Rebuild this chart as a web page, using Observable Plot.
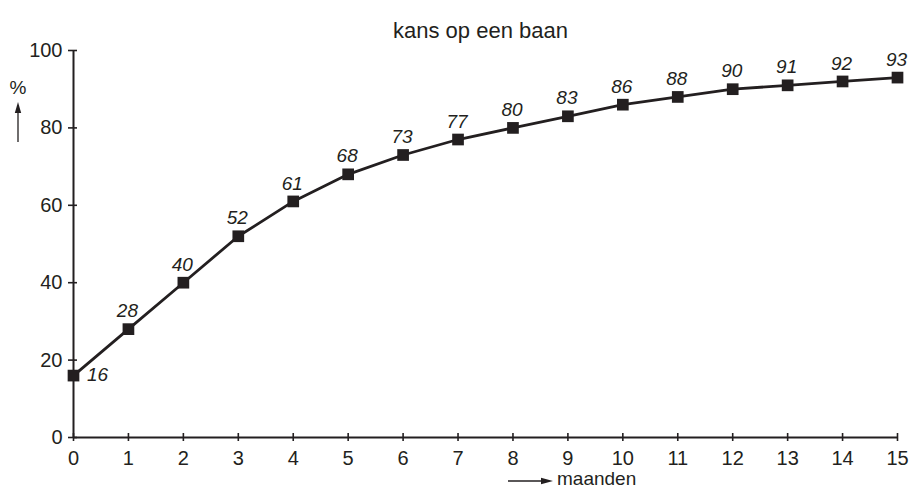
<!DOCTYPE html>
<html>
<head>
<meta charset="utf-8">
<script src="https://cdn.jsdelivr.net/npm/d3@7"></script>
<script src="https://cdn.jsdelivr.net/npm/@observablehq/plot@0.6"></script>
<style>
  html, body { margin: 0; padding: 0; background: #fff; }
  #chart svg { display: block; }
</style>
</head>
<body>
<div id="chart"></div>
<script>
const title = "kans op een baan";
const xLabel = "maanden";
const yLabel = "%";
const months = [0, 1, 2, 3, 4, 5, 6, 7, 8, 9, 10, 11, 12, 13, 14, 15];
const chance = [16, 28, 40, 52, 61, 68, 73, 77, 80, 83, 86, 88, 90, 91, 92, 93];
const xTicks = [0, 1, 2, 3, 4, 5, 6, 7, 8, 9, 10, 11, 12, 13, 14, 15];
const yTicks = [0, 20, 40, 60, 80, 100];

const data = months.map((m, i) => ({month: m, value: chance[i], first: i === 0}));
const ink = "#231f20";
const sans = "'Liberation Sans', Arial, sans-serif";
const narrow = "'Liberation Sans Narrow', 'Liberation Sans', Arial, sans-serif";

function axisArrows(index, scales, values, dims) {
  const g = d3.create("svg:g").attr("fill", ink).attr("font-family", sans).attr("font-size", 19);
  const left = dims.marginLeft;
  const fx0 = dims.marginLeft, fx1 = dims.width - dims.marginRight;
  const fy0 = dims.marginTop;
  const H = dims.height;
  // y label with up arrow
  const ax = left - 55;
  g.append("text").attr("x", ax).attr("y", fy0 + 44).attr("text-anchor", "middle").text(yLabel);
  g.append("line").attr("x1", ax).attr("x2", ax).attr("y1", fy0 + 92).attr("y2", fy0 + 60)
    .attr("stroke", ink).attr("stroke-width", 1.3);
  g.append("path").attr("d", `M${ax},${fy0 + 52}L${ax - 3.2},${fy0 + 63}L${ax + 3.2},${fy0 + 63}Z`);
  // x label with right arrow
  const cx = (fx0 + fx1) / 2;
  const yArr = H - 9;
  g.append("line").attr("x1", cx + 23).attr("x2", cx + 58).attr("y1", yArr).attr("y2", yArr)
    .attr("stroke", ink).attr("stroke-width", 1.3);
  g.append("path").attr("d", `M${cx + 68},${yArr}L${cx + 56},${yArr - 3.2}L${cx + 56},${yArr + 3.2}Z`);
  g.append("text").attr("x", cx + 72).attr("y", H - 5).attr("text-anchor", "start").text(xLabel);
  return g.node();
}

const chart = Plot.plot({
  width: 909,
  height: 490,
  marginLeft: 73,
  marginRight: 12,
  marginTop: 50,
  marginBottom: 53,
  style: {fontFamily: sans, color: ink, background: "#fff"},
  x: {domain: [0, 15], ticks: xTicks},
  y: {domain: [0, 100], ticks: yTicks},
  marks: [
    Plot.axisX({ticks: xTicks, tickSize: 8, dy: -4, tickPadding: 9, fontSize: 20, strokeWidth: 1.6, stroke: ink, fill: ink, label: null, tickFormat: d => String(d)}),
    Plot.axisY({ticks: yTicks, tickSize: 9, dx: 4, tickPadding: 6, fontSize: 20, strokeWidth: 1.6, stroke: ink, fill: ink, label: null, tickFormat: d => String(d)}),
    Plot.ruleX([0], {stroke: ink, strokeWidth: 2}),
    Plot.ruleY([0], {stroke: ink, strokeWidth: 2}),
    Plot.line(data, {x: "month", y: "value", stroke: ink, strokeWidth: 2.8}),
    Plot.dot(data, {x: "month", y: "value", symbol: "square", r: 6.6, fill: ink, stroke: "none"}),
    Plot.text(data.filter(d => !d.first), {x: "month", y: "value", text: d => String(d.value), dy: -18, dx: -1, fontSize: 19, fontStyle: "italic", fontFamily: narrow, fill: ink}),
    Plot.text(data.filter(d => d.first), {x: "month", y: "value", text: d => String(d.value), dx: 24, dy: -1, fontSize: 19, fontStyle: "italic", fontFamily: narrow, fill: ink}),
    Plot.text([title], {frameAnchor: "top", dy: -28, dx: -5, fontSize: 22, fill: ink, fontFamily: sans}),
    axisArrows
  ]
});
document.getElementById("chart").appendChild(chart);
</script>
</body>
</html>
